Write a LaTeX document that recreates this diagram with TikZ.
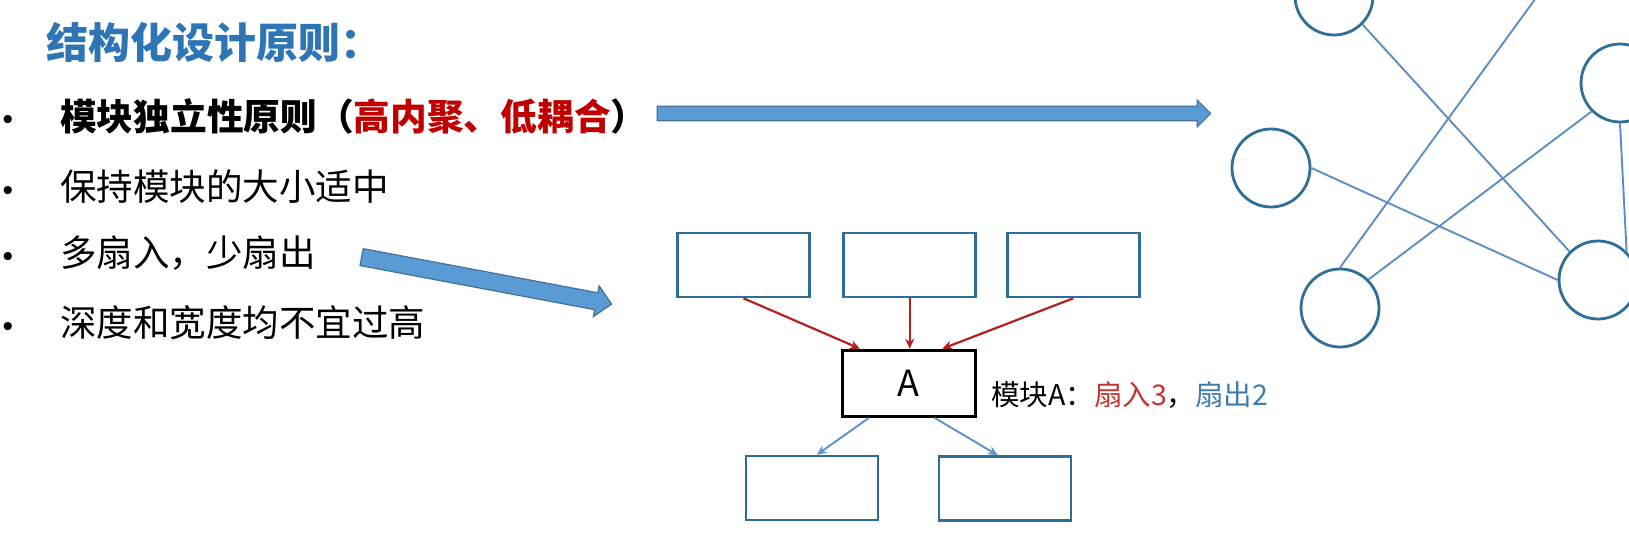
\documentclass[tikz,border=0pt]{standalone}
\usepackage{fontspec}
\newfontfamily\cjk{Noto Sans CJK SC}
\newfontfamily\latin{Liberation Sans}
\usetikzlibrary{positioning,arrows.meta,shapes.arrows}

\definecolor{titleblue}{RGB}{46,117,182}
\definecolor{boxblue}{RGB}{47,110,152}
\definecolor{fanred}{RGB}{178,32,32}
\definecolor{fanblue}{RGB}{98,150,206}
\definecolor{lineblue}{RGB}{92,142,196}
\definecolor{arrowfill}{RGB}{91,155,213}
\definecolor{arrowedge}{RGB}{65,113,156}
\definecolor{textred}{RGB}{192,0,0}
\definecolor{inred}{RGB}{196,52,52}
\definecolor{outblue}{RGB}{62,124,176}

\tikzset{
  item/.style={anchor=west, inner sep=0pt, font=\cjk\fontsize{36.5}{36.5}\selectfont},
  itembold/.style={item, font=\cjk\bfseries\fontsize{36.7}{36.7}\selectfont},
  dot/.style={inner sep=0pt, font=\latin\fontsize{30}{30}\selectfont},
  module/.style={draw=boxblue, line width=2.5pt, minimum width=132pt, minimum height=64pt, inner sep=0pt},
  modA/.style={draw=black, line width=3.2pt, minimum width=133pt, minimum height=66pt, inner sep=0pt, font=\cjk\fontsize{36}{36}\selectfont},
  bubble/.style={circle, draw=boxblue, line width=2.8pt, minimum size=78pt, inner sep=0pt},
  link/.style={lineblue, line width=1.9pt},
  fanin/.style={fanred, line width=2.2pt, -{Stealth[length=10pt,width=9pt]}},
  fanout/.style={fanblue, line width=2pt, -{Stealth[length=10pt,width=9pt]}},
  bigarrow/.style={single arrow, draw=arrowedge, fill=arrowfill, line width=1.2pt, inner xsep=0pt, single arrow head extend=6pt, anchor=tail}
}

\begin{document}
\begin{tikzpicture}[x=1pt, y=-1pt]
\useasboundingbox (0,0) rectangle (1629,535);
\clip (0,0) rectangle (1629,535);
% Text
\node[anchor=west, inner sep=0pt, text=titleblue, font=\cjk\bfseries\fontsize{42}{42}\selectfont] (title) at (46,42.5) {结构化设计原则：};
\node[dot] (d1) at (8,122) {•};
\node[dot] (d2) at (8,193) {•};
\node[dot] (d3) at (8,259) {•};
\node[dot] (d4) at (8,329) {•};
\node[itembold] (p1) at (60,116.4) {模块独立性原则（\textcolor{textred}{高内聚、低耦合}）};
\node[item] (p2) at (60,187) {保持模块的大小适中};
\node[item] (p3) at (60,253.5) {多扇入，少扇出};
\node[item] (p4) at (60,323) {深度和宽度均不宜过高};
% Big arrows
\node[bigarrow, minimum height=553.4pt, inner ysep=6.7pt] (bar1) at (656.6,113.5) {};
\node[bigarrow, minimum height=254.4pt, inner ysep=8pt, single arrow head extend=7pt, rotate=-10.65] (bar2) at (361,257) {};
% Modules
\node[module] (m1) at (743.4,265) {};
\node[module] (m2) at (909.7,265) {};
\node[module] (m3) at (1073.3,265) {};
\node[modA] (A) at (908.6,383.3) {A};
\node[module] (m4) at (812.2,488) {};
\node[module] (m5) at (1005,488.5) {};
\node[anchor=west, inner sep=0pt, font=\cjk\fontsize{28.5}{28.5}\selectfont] (info) at (991,395) {模块A：\textcolor{inred}{扇入3}，\textcolor{outblue}{扇出2}};
% Fan in / fan out
\draw[fanin] (m1.south) -- ([xshift=-48.6pt]A.north);
\draw[fanin] (m2.south) -- (m2.south |- A.north);
\draw[fanin] (m3.south) -- ([xshift=33.7pt]A.north);
\draw[fanout] ([xshift=-39.7pt]A.south) -- ([xshift=4.6pt]m4.north);
\draw[fanout] ([xshift=26.1pt]A.south) -- ([xshift=-7.2pt]m5.north);
% Network
\node[bubble] (c1) at (1334,-4) {};
\node[bubble] (c2) at (1271,168) {};
\node[bubble] (c3) at (1620,83) {};
\node[bubble] (c4) at (1340,308) {};
\node[bubble] (c5) at (1598,280) {};
\coordinate (c6) at (1578,-60);
\draw[link] (c1.south east) -- (c5.north west);
\draw[link] (c4.north) -- (c6);
\draw[link] (c2.east) -- (c5.west);
\draw[link] (c4.north east) -- (c3.south west);
\draw[link] (c3.south) -- (c5.north east);
\end{tikzpicture}
\end{document}
